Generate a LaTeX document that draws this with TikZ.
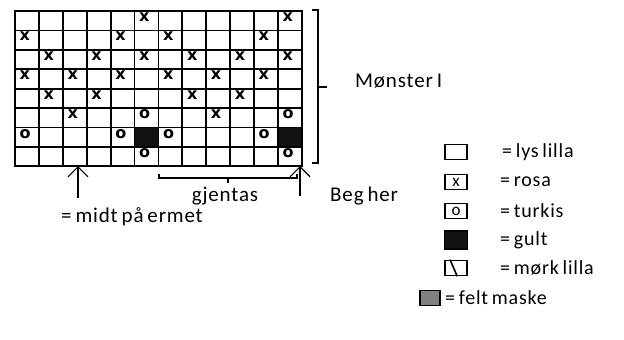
\documentclass[tikz,border=0pt]{standalone}
\usepackage{fontspec}
\setmainfont{Carlito}
\newfontfamily\spacedfont[LetterSpace=4,WordSpace=0.7]{Carlito}
\newfontfamily\cellfont{DejaVu Sans}
\usetikzlibrary{arrows.meta,positioning,calc}

\begin{document}
\begin{tikzpicture}[x=1pt,y=-1pt,>={Straight Barb[length=10pt,width=20pt]},
  xst/.style={anchor=north west,inner sep=0pt,font=\cellfont\bfseries\fontsize{16}{16}\selectfont},
  keybox/.style={draw,line width=1.6pt,minimum width=22pt,minimum height=15pt,inner sep=0pt},
  keytxt/.style={anchor=west,font=\spacedfont\fontsize{20}{20}\selectfont,inner sep=0pt},
  lbl/.style={font=\spacedfont\fontsize{21}{21}\selectfont,inner sep=0pt}]
\useasboundingbox (0,0) rectangle (624,340);
\def\cw{23.9}\def\rh{19.4}
% black cells
\foreach \c/\r in {6/7,12/7}
  \fill[black!93] ({15+(\c-1)*\cw},{11+(\r-1)*\rh}) rectangle ++(\cw,\rh);
% grid
\foreach \i in {0,...,12} \draw[line width=1.8pt] ({15+\i*\cw},11) -- ({15+\i*\cw},166.2);
\foreach \j in {0,...,8} \draw[line width=1.8pt] (14.1,{11+\j*\rh}) -- (302.7,{11+\j*\rh});
\draw[line width=2.4pt] (15,11) rectangle (301.8,166.2);
% rosa stitches
\foreach \c/\r in {6/1,12/1,1/2,5/2,7/2,11/2,2/3,4/3,6/3,8/3,10/3,12/3,
  1/4,3/4,5/4,7/4,9/4,11/4,2/5,4/5,8/5,10/5,3/6,9/6}
  \node[xst] at ({15+(\c-1)*\cw+4.5},{11+(\r-1)*\rh+1.5}) {x};
% turkis stitches
\foreach \c/\r in {6/6,12/6,1/7,5/7,7/7,11/7,6/8,12/8}
  \node[xst] at ({15+(\c-1)*\cw+4.5},{11+(\r-1)*\rh+1.5}) {o};
% right bracket
\draw[line width=1.2pt] (312,10) -- (318,10) -- (318,163) -- (312,163);
\draw[line width=1.2pt] (318,87) -- (327,87);
\node[lbl,anchor=base west] (moenster) at (355,87) {Mønster I};
% repeat bracket
\draw[line width=1.2pt] (159,174) -- (159,178) -- (297,178) -- (297,174);
\draw[line width=1.2pt] (228,178) -- (228,183);
\node[lbl,anchor=base] (gjentas) at (225,201) {gjentas};
% arrows
\coordinate (midt) at (78,166);
\coordinate (start) at (300,166);
\draw[->,line width=1.2pt] ($(midt)+(0,32)$) -- (midt);
\draw[->,line width=1.2pt] ($(start)+(0,30)$) -- (start);
\node[lbl,anchor=base west] (beg) at (330,201) {Beg her};
\node[lbl,anchor=base west] (ermet) at (61,222) {= midt på ermet};
% legend
\node[keybox] (lys) at (456,152) {};
\node[keytxt] at (502,152) {= lys lilla};
\node[keybox,font=\fontsize{17}{17}\selectfont] (rosa) at (456,182) {x};
\node[keytxt] at (500,182) {= rosa};
\node[keybox,font=\fontsize{17}{17}\selectfont] (turkis) at (456,211) {o};
\node[keytxt] at (500,211) {= turkis};
\node[keybox,fill=black!93,minimum width=23pt,minimum height=18pt] (gult) at (456,240) {};
\node[keytxt] at (500,240) {= gult};
\node[keybox] (moerk) at (456,268) {};
\draw[line width=1.6pt] ($(moerk.north west)!0.25!(moerk.north east)$) -- ($(moerk.south west)!0.55!(moerk.south east)$);
\node[keytxt] at (500,268) {= mørk lilla};
\node[keybox,fill=black!50,minimum width=20pt] (felt) at (430,298) {};
\node[keytxt] at (445,298) {= felt maske};
\end{tikzpicture}
\end{document}
